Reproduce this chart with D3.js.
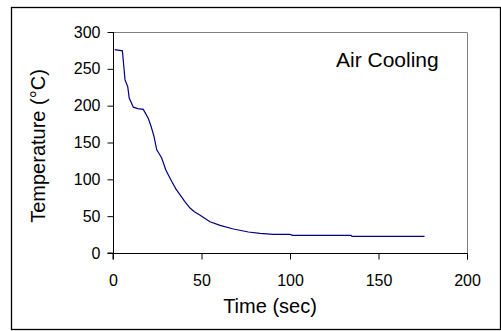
<!DOCTYPE html>
<html>
<head>
<meta charset="utf-8">
<script src="https://cdn.jsdelivr.net/npm/d3@7"></script>
<style>
  body { margin: 0; background: #fff; }
  text { font-family: Arial, "Liberation Sans", sans-serif; fill: #000; }
</style>
</head>
<body>
<svg id="chart"></svg>
<script>
// Time (sec) and temperature (°C)
const timeSec = [1, 5.3, 6.8, 8.3, 9.2, 11.5, 14, 17.1, 19.9, 21.5, 23.2, 24.7, 26, 27.5, 29.8,
  31.5, 33.2, 35.5, 37.9, 40.5, 43.5, 46, 49, 54.8, 60.5, 68, 76.5, 83, 90.6, 100, 101.5, 134.5, 135, 176];
const tempC = [276, 274.5, 235, 226, 210, 198, 196, 195, 183, 172, 158, 140, 135, 129, 113,
  105, 97, 87, 79, 70, 61, 56, 51.6, 42.5, 37.5, 32.6, 28.5, 26.7, 25.4, 25.3, 24, 24, 22.6, 22.6];

const xTicks = [0, 50, 100, 150, 200];
const yTicks = [0, 50, 100, 150, 200, 250, 300];
const chartLabel = "Air Cooling";

const width = 501, height = 331;
const plot = { left: 113, top: 32, right: 467, bottom: 253 };

const svg = d3.select('#chart')
  .attr('width', width)
  .attr('height', height);

// outer chart frame
svg.append('rect')
  .attr('x', 11.5).attr('y', 7.5)
  .attr('width', 489).attr('height', 322)
  .attr('fill', 'none')
  .attr('stroke', '#000')
  .attr('stroke-width', 1.3);

const x = d3.scaleLinear().domain([0, 200]).range([plot.left, plot.right]);
const y = d3.scaleLinear().domain([0, 300]).range([plot.bottom, plot.top]);

// gray top/right edges of the plot area
svg.append('path')
  .attr('d', `M${plot.left},${plot.top + 0.5}H${plot.right + 0.5}V${plot.bottom}`)
  .attr('fill', 'none')
  .attr('stroke', '#808080')
  .attr('stroke-width', 1);

// axes
const yAxis = svg.append('g')
  .attr('transform', `translate(${plot.left + 0.5},0)`)
  .call(d3.axisLeft(y).tickValues(yTicks).tickSize(6).tickPadding(7));

const xAxis = svg.append('g')
  .attr('transform', `translate(0,${plot.bottom + 0.5})`)
  .call(d3.axisBottom(x).tickValues(xTicks).tickSize(6).tickPadding(15));

[yAxis, xAxis].forEach(ax => {
  ax.select('.domain').attr('stroke', '#000');
  ax.selectAll('.tick line').attr('stroke', '#000');
  ax.selectAll('.tick text')
    .style('font-size', '16px')
    .style('font-family', 'Arial, "Liberation Sans", sans-serif')
    .attr('fill', '#000');
});
yAxis.select('.domain').attr('d', `M-6,${plot.bottom}H0V${plot.top}`);
xAxis.select('.domain').attr('d', `M${plot.left},6V0H${plot.right + 0.5}V6`);

// cooling curve
const line = d3.line()
  .x(i => x(timeSec[i]))
  .y(i => y(tempC[i]));

svg.append('path')
  .datum(d3.range(timeSec.length))
  .attr('d', line)
  .attr('fill', 'none')
  .attr('stroke', '#000080')
  .attr('stroke-width', 1.2);

// titles
svg.append('text')
  .attr('x', 270)
  .attr('y', 313)
  .attr('text-anchor', 'middle')
  .style('font-size', '20px')
  .text('Time (sec)');

svg.append('text')
  .attr('transform', `translate(45,146) rotate(-90)`)
  .attr('text-anchor', 'middle')
  .style('font-size', '20px')
  .text('Temperature (°C)');

svg.append('text')
  .attr('x', 336)
  .attr('y', 67)
  .style('font-size', '21px')
  .text(chartLabel);
</script>
</body>
</html>
